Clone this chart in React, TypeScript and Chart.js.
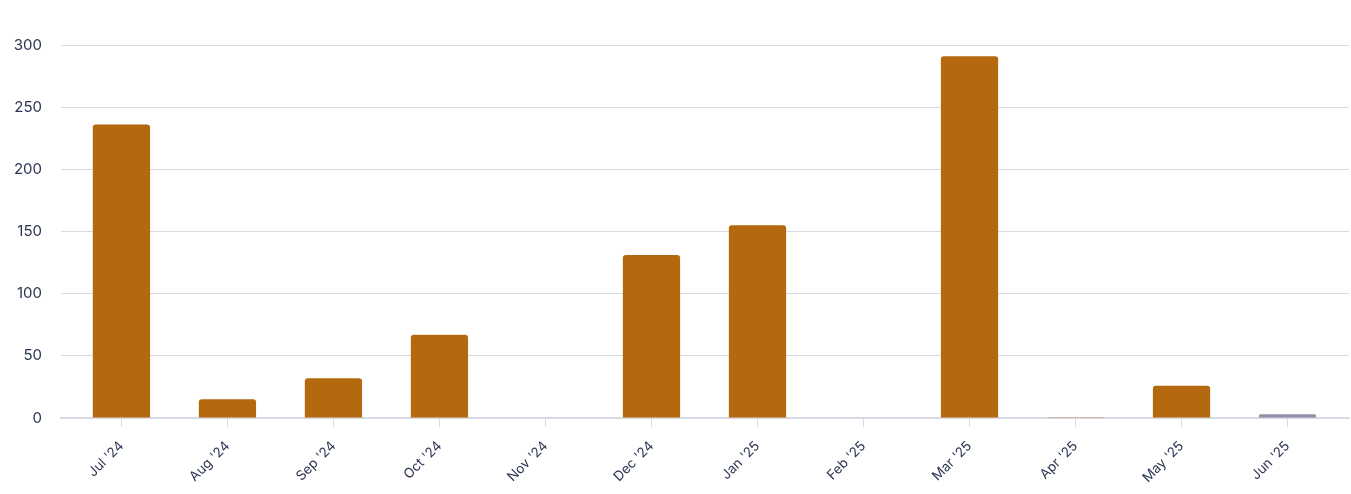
import React, { useEffect, useRef } from "react";
import { Chart, registerables } from "chart.js";

Chart.register(...registerables);

const months = ["Jul '24", "Aug '24", "Sep '24", "Oct '24", "Nov '24", "Dec '24", "Jan '25", "Feb '25", "Mar '25", "Apr '25", "May '25", "Jun '25"];
const values = [236, 15, 32, 67, 0, 131, 155, 0, 291, 0.6, 26, 3];
const barColors = ["#b4690e", "#b4690e", "#b4690e", "#b4690e", "#b4690e", "#b4690e", "#b4690e", "#b4690e", "#b4690e", "#b4690e", "#b4690e", "#8e8fa8"];
const yTicks = [0, 50, 100, 150, 200, 250, 300];

const GRID = "#d9d9e3";
const TEXT = "#2b3452";

export default function App() {
  const ref = useRef<HTMLCanvasElement | null>(null);
  useEffect(() => {
    if (!ref.current) return;
    const chart = new Chart(ref.current, {
      type: "bar",
      data: {
        datasets: [
          {
            data: values.map((v, i) => ({ x: i, y: v })),
            backgroundColor: barColors,
            borderRadius: { topLeft: 3, topRight: 3, bottomLeft: 0, bottomRight: 0 },
            borderSkipped: "bottom",
            barPercentage: 0.54,
            categoryPercentage: 1,
          },
        ],
      },
      options: {
        animation: false,
        responsive: true,
        maintainAspectRatio: false,
        layout: { padding: { left: 0, right: 2, top: 45, bottom: 0 } },
        plugins: { legend: { display: false }, tooltip: { enabled: false } },
        scales: {
          x: {
            type: "linear",
            offset: false,
            min: -0.57,
            max: 11.58,
            afterBuildTicks: (scale: any) => {
              scale.ticks = months.map((_, i) => ({ value: i }));
            },
            afterFit: (scale: any) => {
              scale.height = 76;
            },
            ticks: {
              autoSkip: false,
              minRotation: 45,
              maxRotation: 45,
              color: TEXT,
              font: { family: "Inter", size: 13.5 },
              padding: 11,
              callback: (v: any) => months[Math.round(Number(v))],
            },
            grid: {
              offset: false,
              drawOnChartArea: false,
              drawTicks: true,
              tickLength: 9,
              color: GRID,
            },
            border: { display: true, color: GRID, width: 1.5 },
          },
          y: {
            min: 0,
            max: 300,
            afterBuildTicks: (scale: any) => {
              scale.ticks = yTicks.map((v) => ({ value: v }));
            },
            afterFit: (scale: any) => {
              scale.width = 61;
            },
            ticks: {
              color: TEXT,
              font: { family: "Inter", size: 15 },
              padding: 19,
            },
            grid: { color: GRID, drawTicks: false },
            border: { display: false },
          },
        },
      },
    });
    return () => chart.destroy();
  }, []);
  return (
    <div style={{ position: "fixed", left: 0, top: 0, width: 1351, height: 494, background: "#fff" }}>
      <canvas ref={ref} />
    </div>
  );
}
